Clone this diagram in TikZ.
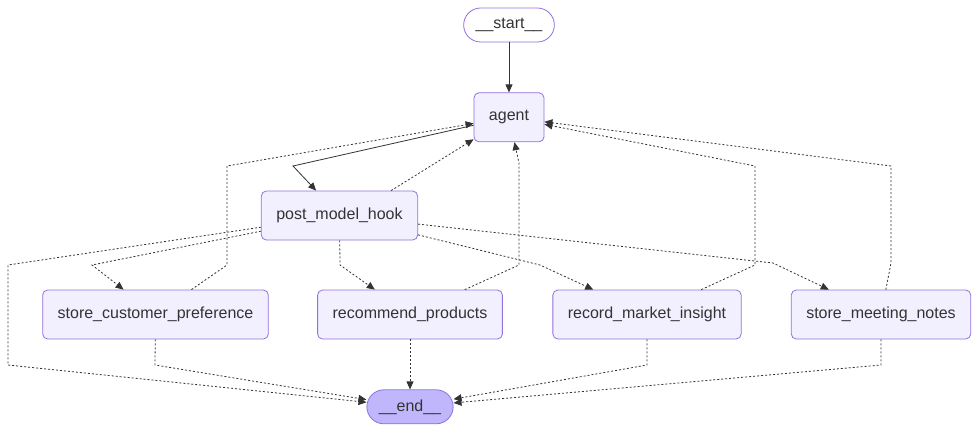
\documentclass[tikz,border=0pt]{standalone}
\usepackage{fontspec}
\setmainfont{Liberation Sans}
\usetikzlibrary{
  arrows.meta,
  positioning
}
\usepackage{xcolor}
\definecolor{boxFill}{HTML}{F2F0FF}
\definecolor{boxDraw}{HTML}{9370DB}
\definecolor{endFill}{HTML}{BFB6FC}
\definecolor{inkGray}{HTML}{333333}
\newcommand{\lgNode}[3]{\node[lgbox] (#1) at (#2) {#3};}
\newcommand{\lgSO}[3]{\node[lgbox] (#2) [below=50pt of #1] {#3};}
\tikzset{
  lgbox/.style={
    draw=boxDraw,
    fill=boxFill,
    line width=0.8pt,
    rounded corners=5pt,
    minimum height=49pt,
    inner xsep=15pt,
    text=inkGray,
    font=\fontsize{16}{19}\selectfont
  },
  lgterm/.style={
    lgbox,
    rounded corners=17pt,
    minimum height=34pt,
    inner xsep=12pt
  },
  flow/.style={->, draw=inkGray, line width=0.8pt},
  dotflow/.style={flow, dash pattern=on 2pt off 2pt}
}
\begin{document}
\begin{tikzpicture}[
    >={Triangle[length=8pt,width=7pt]},
    x=1pt, y=-1pt
  ]
  \useasboundingbox (0,0) rectangle (979,432);
  \node[lgterm, fill=white] (start) at (509,25) {\_\_start\_\_};
  \lgSO{start}{agent}{agent}
  \lgNode{hook}{339.5,215.5}{post\_model\_hook}
  \lgNode{pref}{155.5,314.5}{store\_customer\_preference}
  \lgNode{recommend}{410,314.5}{recommend\_products}
  \lgNode{insight}{647,314.5}{record\_market\_insight}
  \lgNode{notes}{881,314.5}{store\_meeting\_notes}
  \node[lgterm, fill=endFill] (end) [below=50pt of recommend] {\_\_end\_\_};

  \draw[flow] (start) -- (agent);
  \draw[flow] (agent) -- (293,166) -- (hook);
  \draw[dotflow] ([xshift=-27pt]hook.north east) -- (agent);
  \draw[dotflow] (pref) -- (227,265) -- (227,166) -- (agent);
  \draw[dotflow] (recommend) -- (519,265) -- (519,163) -- (agent);
  \draw[dotflow] (insight) -- (755,265) -- (755,166) -- (agent);
  \draw[dotflow] (notes) -- (891,263) -- (891,166) -- (agent);

  \draw[dotflow] (hook) -- (92,265) -- (pref);
  \draw[dotflow] (hook) -- (8,265) -- (8,365) -- (end);
  \draw[dotflow] (hook) -- (340,265) -- (recommend);
  \draw[dotflow] (hook) -- (540,265) -- (insight);
  \draw[dotflow] (hook) -- (773,263) -- (notes);

  \draw[dotflow] (pref) -- (155,365) -- (end);
  \draw[dotflow] (recommend) -- (end);
  \draw[dotflow] (insight) -- (647,365) -- (end);
  \draw[dotflow] (notes) -- (881,365) -- (end);
\end{tikzpicture}
\end{document}
